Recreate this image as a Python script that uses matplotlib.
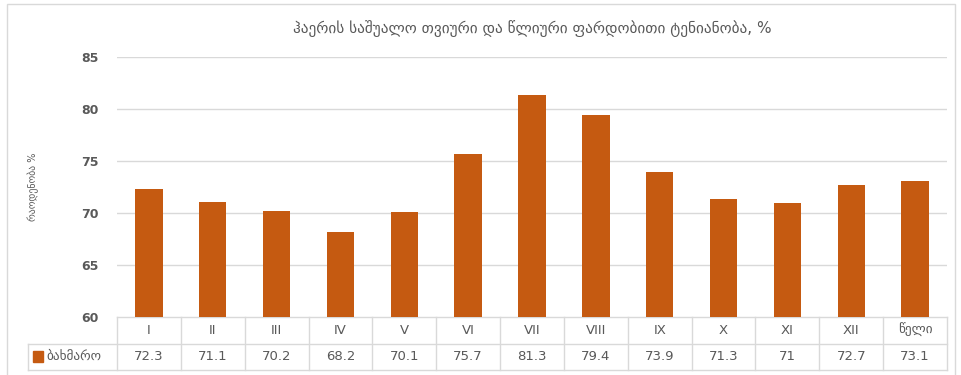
import matplotlib
matplotlib.use("Agg")
import matplotlib.pyplot as plt
from matplotlib.patches import Rectangle

categories = ["I", "II", "III", "IV", "V", "VI", "VII", "VIII", "IX", "X", "XI", "XII", "წელი"]
values = [72.3, 71.1, 70.2, 68.2, 70.1, 75.7, 81.3, 79.4, 73.9, 71.3, 71, 72.7, 73.1]
value_labels = ["72.3", "71.1", "70.2", "68.2", "70.1", "75.7", "81.3", "79.4", "73.9", "71.3", "71", "72.7", "73.1"]
series_name = "ბახმარო"
title = "ჰაერის საშუალო თვიური და წლიური ფარდობითი ტენიანობა, %"
ylabel = "რაოდენობა %"
yticks = [60, 65, 70, 75, 80, 85]

W, H = 961, 375
BAR = "#C55A11"
TXT = "#595959"
LINE = "#D9D9D9"

plt.rcParams["font.family"] = ["DejaVu Sans"]
fig = plt.figure(figsize=(W / 100, H / 100), dpi=100)

# outer chart frame
fig.patches.append(Rectangle((7 / W, -0.05), 948 / W, 1.05 - 4 / H, transform=fig.transFigure,
                             fill=False, edgecolor=LINE, linewidth=1.0))

ax_l, ax_r, ax_t, ax_b = 117, 947, 57, 317
ax = fig.add_axes([ax_l / W, 1 - ax_b / H, (ax_r - ax_l) / W, (ax_b - ax_t) / H])

x = list(range(len(categories)))
ax.bar(x, values, width=0.43, color=BAR, zorder=3)
ax.set_xlim(-0.5, len(categories) - 0.5)
ax.set_ylim(60, 85)
ax.set_yticks(yticks)
ax.set_yticklabels([str(t) for t in yticks], fontsize=9, color=TXT, fontweight="bold")
ax.tick_params(axis="y", length=0, pad=13)
ax.set_xticks([])
for s in ax.spines.values():
    s.set_visible(False)
for t in yticks[1:]:
    ax.axhline(t, color=LINE, linewidth=1.0, zorder=1)

ax.set_title(title, fontsize=11, color=TXT, pad=17)
fig.text(33 / W, 1 - 187 / H, ylabel, rotation=90, fontsize=7, color=TXT, ha="center", va="center")

# data table beneath the plot
tr = ax.get_xaxis_transform()
ph = ax_b - ax_t
row = 26.5 / ph
col_w = (ax_r - ax_l) / len(categories)
legend_left = -0.5 - (ax_l - 28) / col_w
n = len(categories)
kw = dict(transform=tr, color=LINE, linewidth=1.0, clip_on=False)
ax.plot([-0.5, n - 0.5], [0, 0], **kw)
ax.plot([legend_left, n - 0.5], [-row, -row], **kw)
ax.plot([legend_left, n - 0.5], [-2 * row, -2 * row], **kw)
ax.plot([legend_left, legend_left], [-row, -2 * row], **kw)
for i in range(n + 1):
    ax.plot([i - 0.5, i - 0.5], [0, -2 * row], **kw)
for i, (c, v) in enumerate(zip(categories, value_labels)):
    ax.text(i, -row / 2, c, transform=tr, ha="center", va="center", fontsize=9.5, color=TXT)
    ax.text(i, -1.5 * row, v, transform=tr, ha="center", va="center", fontsize=9.5, color=TXT)

ax.add_patch(Rectangle((legend_left + 0.08, -1.5 * row - 0.022), 0.15, 0.044, transform=tr,
                       color=BAR, clip_on=False))
ax.text(legend_left + 0.29, -1.5 * row, series_name, transform=tr, ha="left", va="center",
        fontsize=9.5, color=TXT)

fig.savefig("out.png", dpi=100)
